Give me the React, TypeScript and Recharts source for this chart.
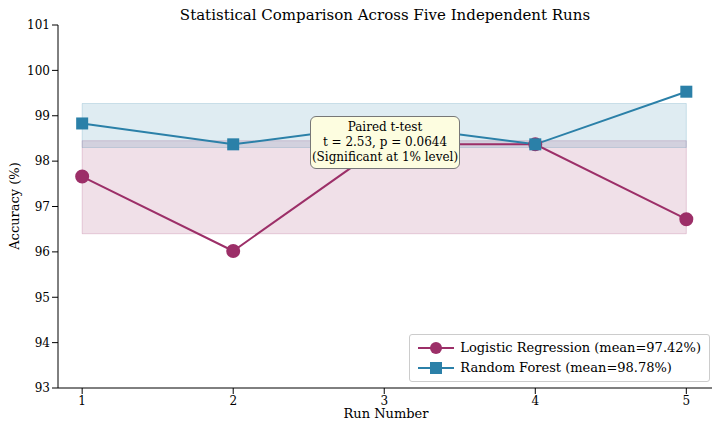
import React from "react";
import {
  ComposedChart,
  Line,
  XAxis,
  YAxis,
  ReferenceArea,
} from "recharts";

const runs = [1, 2, 3, 4, 5];
const logisticAcc = [97.66, 96.02, 98.37, 98.37, 96.72];
const forestAcc = [98.83, 98.37, 98.8, 98.37, 99.53];
const xTicks = [1, 2, 3, 4, 5];
const yTicks = [93, 94, 95, 96, 97, 98, 99, 100, 101];
const lrBand = [96.4, 98.45];
const rfBand = [98.3, 99.27];

const LR = "#9c2f68";
const RF = "#2b80a8";
const FONT = "'DejaVu Serif', serif";

const data = runs.map((r, i) => ({ run: r, lr: logisticAcc[i], rf: forestAcc[i] }));

const Square = (props: any) => {
  const { cx, cy } = props;
  if (cx == null) return null;
  return <rect x={cx - 6} y={cy - 6} width={12} height={12} fill={RF} />;
};

export default function App() {
  return (
    <div style={{ position: "relative", width: 724, height: 430, margin: -8, background: "white" }}>
      <div
        style={{
          position: "absolute",
          top: 6,
          left: 58,
          width: 654,
          textAlign: "center",
          fontFamily: FONT,
          fontSize: 15,
        }}
      >
        Statistical Comparison Across Five Independent Runs
      </div>
      <ComposedChart
        width={724}
        height={430}
        data={data}
        margin={{ top: 25, right: 12, bottom: 12, left: 8 }}
      >
        <ReferenceArea x1={1} x2={5} y1={lrBand[0]} y2={lrBand[1]} fill={LR} fillOpacity={0.15} stroke={LR} strokeOpacity={0.2} />
        <ReferenceArea x1={1} x2={5} y1={rfBand[0]} y2={rfBand[1]} fill={RF} fillOpacity={0.15} stroke={RF} strokeOpacity={0.2} />
        <XAxis
          dataKey="run"
          type="number"
          domain={[0.84, 5.17]}
          ticks={xTicks}
          height={30}
          tick={{ fill: "#000", fontFamily: FONT, fontSize: 12 }}
          tickLine={{ stroke: "#000" }}
          axisLine={{ stroke: "#000" }}
        />
        <YAxis
          type="number"
          domain={[93, 101]}
          ticks={yTicks}
          width={50}
          tick={{ fill: "#000", fontFamily: FONT, fontSize: 12 }}
          tickLine={{ stroke: "#000" }}
          axisLine={{ stroke: "#000" }}
        />
        <Line dataKey="lr" stroke={LR} strokeWidth={2} dot={{ r: 6, fill: LR, stroke: LR }} isAnimationActive={false} />
        <Line dataKey="rf" stroke={RF} strokeWidth={2} dot={<Square />} isAnimationActive={false} />
      </ComposedChart>
      <div
        style={{
          position: "absolute",
          left: 0,
          top: 406,
          width: 724,
          paddingLeft: 48,
          boxSizing: "border-box",
          textAlign: "center",
          fontFamily: FONT,
          fontSize: 13,
        }}
      >
        Run Number
      </div>
      <div
        style={{
          position: "absolute",
          left: 16 - 60,
          top: 206 - 9,
          width: 120,
          height: 18,
          transform: "rotate(-90deg)",
          textAlign: "center",
          fontFamily: FONT,
          fontSize: 13,
        }}
      >
        Accuracy (%)
      </div>
      <div
        style={{
          position: "absolute",
          right: 14,
          bottom: 48,
          border: "1px solid #ccc",
          borderRadius: 3,
          background: "white",
          padding: "3px 8px",
          fontFamily: FONT,
          fontSize: 13,
          lineHeight: "20px",
        }}
      >
        <div style={{ display: "flex", alignItems: "center" }}>
          <svg width={36} height={14}>
            <line x1={0} y1={7} x2={36} y2={7} stroke={LR} strokeWidth={2} />
            <circle cx={18} cy={7} r={6} fill={LR} />
          </svg>
          <span style={{ marginLeft: 6 }}>Logistic Regression (mean=97.42%)</span>
        </div>
        <div style={{ display: "flex", alignItems: "center" }}>
          <svg width={36} height={14}>
            <line x1={0} y1={7} x2={36} y2={7} stroke={RF} strokeWidth={2} />
            <rect x={12} y={1} width={12} height={12} fill={RF} />
          </svg>
          <span style={{ marginLeft: 6 }}>Random Forest (mean=98.78%)</span>
        </div>
      </div>
      <div
        style={{
          position: "absolute",
          left: 310,
          top: 116,
          width: 148,
          padding: "3px 0",
          background: "#fdfde0",
          border: "1px solid #777",
          borderRadius: 6,
          textAlign: "center",
          fontFamily: FONT,
          fontSize: 12,
          lineHeight: "15px",
        }}
      >
        Paired t-test
        <br />t = 2.53, p = 0.0644
        <br />(Significant at 1% level)
      </div>
    </div>
  );
}
